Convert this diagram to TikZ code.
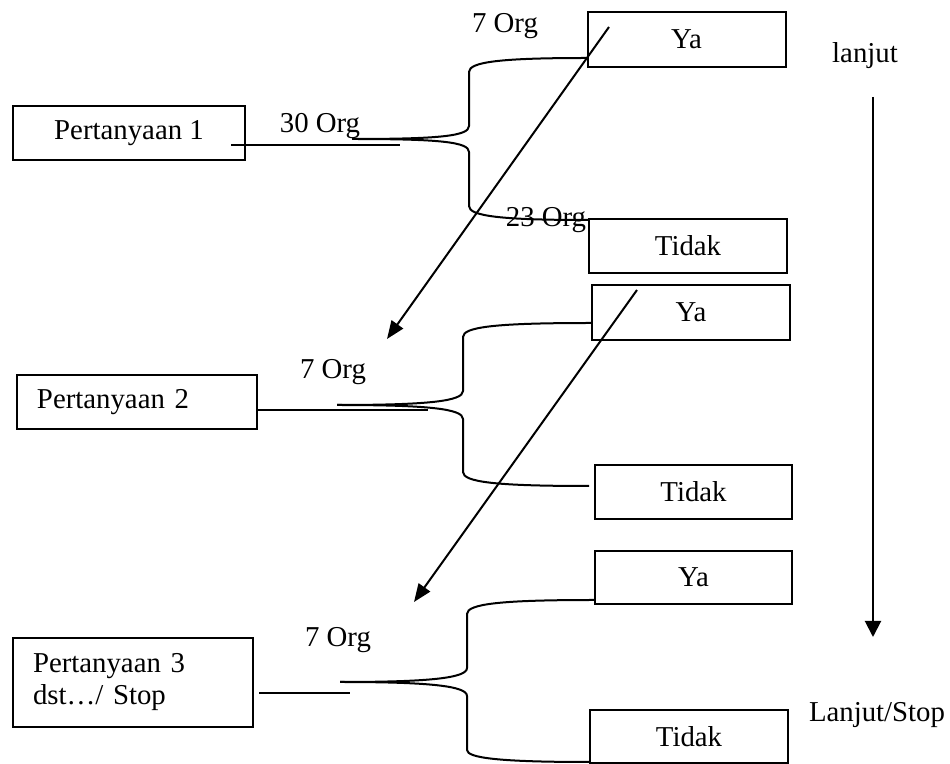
\documentclass[tikz,border=0pt]{standalone}
\usepackage{fontspec}
\setmainfont{Liberation Serif}
\usetikzlibrary{arrows.meta, calc}

\begin{document}
\begin{tikzpicture}[x=0.5pt, y=-0.5pt, line width=1pt,
  kotak/.style={draw, minimum width=99pt, minimum height=27pt, inner sep=0pt, font=\fontsize{14.4}{16}\selectfont},
  tanya/.style={kotak, minimum width=120pt, text width=100pt, align=left, inner xsep=10pt},
  teks/.style={font=\fontsize{14.4}{16}\selectfont, inner sep=0pt, anchor=base},
  panah/.style={-{Triangle[length=9pt, width=7pt]}}]
  \useasboundingbox (0,0) rectangle (950,764);

  % kotak pertanyaan
  \node[kotak, minimum width=116pt] (p1) at (129,133.5) {Pertanyaan 1};
  \node[tanya] (p2) at (137,402) {Pertanyaan 2};
  \node[tanya, minimum height=44.5pt] (p3) at (133,682.5) {Pertanyaan 3\\dst\dots/ Stop};

  % kotak jawaban
  \node[kotak, minimum height=27.5pt] (ya1) at (686.5,39.5) {Ya};
  \node[kotak] (tidak1) at (688,246) {Tidak};
  \node[kotak, minimum height=27.5pt] (ya2) at (691,312.5) {Ya};
  \node[kotak, minimum width=98.5pt] (tidak2) at (693.5,492) {Tidak};
  \node[kotak, minimum width=98.5pt, minimum height=26.5pt] (ya3) at (693.5,577.5) {Ya};
  \node[kotak, minimum height=26.5pt] (tidak3) at (689,736.5) {Tidak};

  % jumlah orang
  \node[teks] (org1) at (505,33) {7 Org};
  \node[teks] (org30) at (320,133) {30 Org};
  \node[teks] (org23) at (546,227) {23 Org};
  \node[teks] (org2) at (333,379) {7 Org};
  \node[teks] (org3) at (338,647) {7 Org};
  \node[teks] (lanjut) at (865,63) {lanjut};
  \node[teks, anchor=base west] (stop) at (808,722) {Lanjut/Stop};

  % garis dari pertanyaan
  \draw ($(p1.east |- 0,145)+(-15,0)$) -- (400,145);
  \draw (p2.east |- 0,410) -- (428,410);
  \draw ($(p3.east |- 0,693)+(5,0)$) -- (350,693);

  % cabang 1
  \coordinate (t1) at (352,139);
  \draw (t1) .. controls (440,139) and (469,136) .. (469,126) -- (469,72)
    .. controls (469,62) and (500,58) .. (ya1.west |- 0,58);
  \draw (t1) .. controls (440,139) and (469,142) .. (469,152) -- (469,206)
    .. controls (469,216) and (500,220) .. (tidak1.west |- 0,220);

  % cabang 2
  \coordinate (t2) at (337,405);
  \draw (t2) .. controls (430,405) and (463,401) .. (463,391) -- (463,337)
    .. controls (463,327) and (495,323) .. (ya2.west |- 0,323);
  \draw (t2) .. controls (430,405) and (463,409) .. (463,419) -- (463,472)
    .. controls (463,482) and (495,486) .. ($(tidak2.west |- 0,486)+(-5,0)$);

  % cabang 3
  \coordinate (t3) at (340,682);
  \draw (t3) .. controls (430,682) and (467,678) .. (467,668) -- (467,614)
    .. controls (467,604) and (500,600) .. (ya3.west |- 0,600);
  \draw (t3) .. controls (430,682) and (467,686) .. (467,696) -- (467,750)
    .. controls (467,758) and (500,762) .. (tidak3.west |- 0,762);

  % panah
  \coordinate (a1) at (609,27);
  \coordinate (b1) at (387,339);
  \coordinate (a2) at (637,290);
  \coordinate (b2) at (414,602);
  \coordinate (a3) at (873,97);
  \coordinate (b3) at (873,637);
  \draw[panah] (a1) -- (b1);
  \draw[panah] (a2) -- (b2);
  \draw[panah, -{Triangle[length=8pt, width=8pt]}] (a3) -- (b3);
\end{tikzpicture}
\end{document}
